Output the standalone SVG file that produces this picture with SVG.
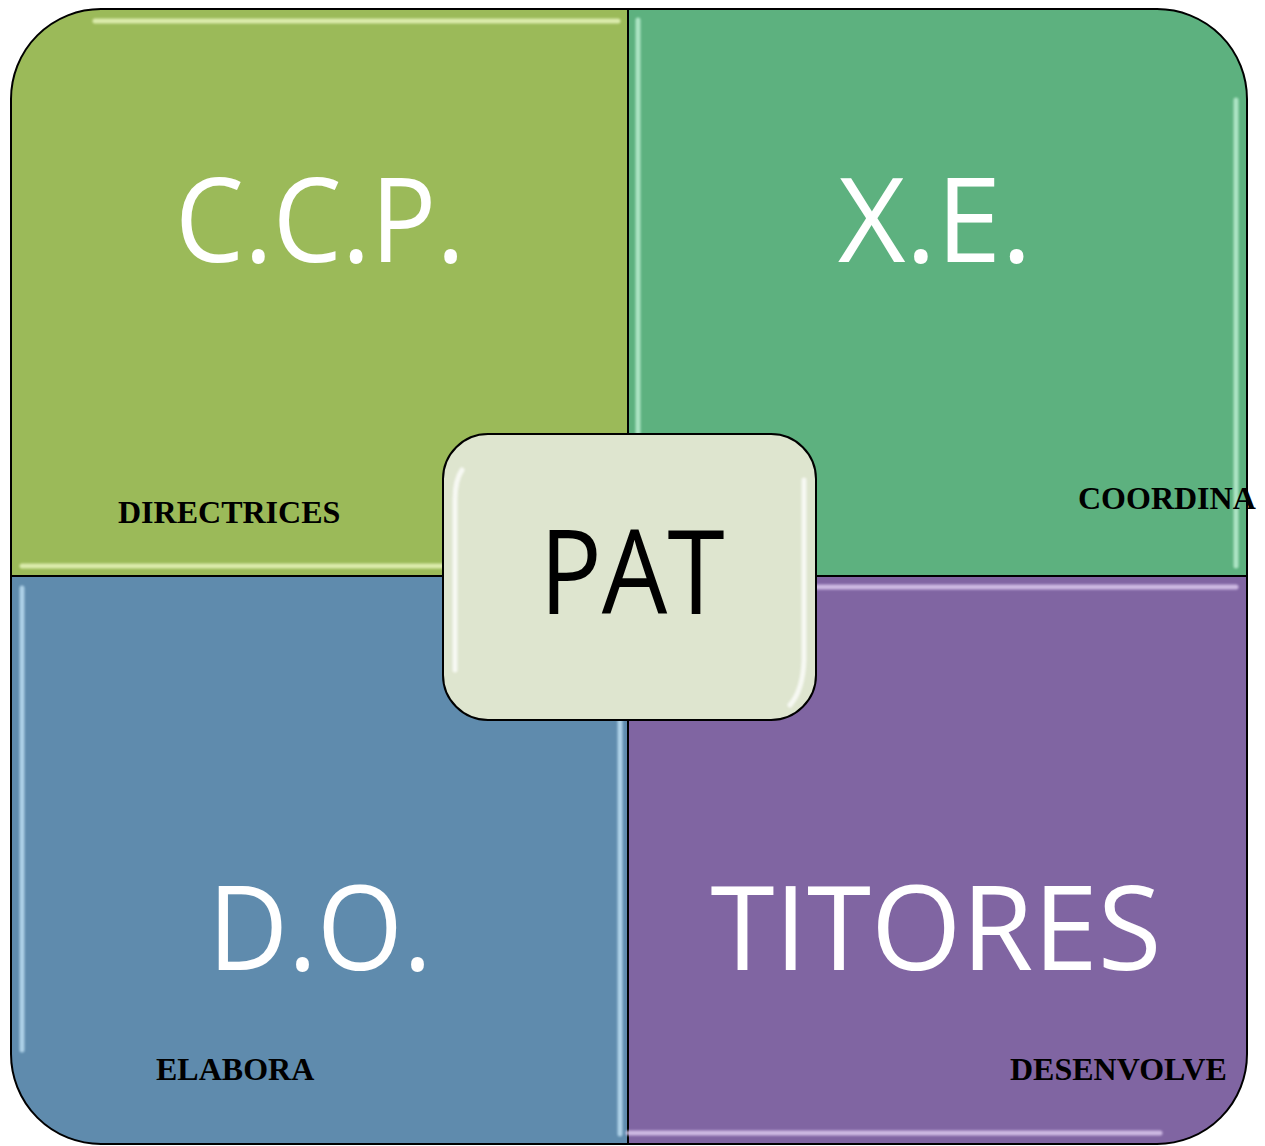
<svg xmlns="http://www.w3.org/2000/svg" width="1265" height="1146" viewBox="0 0 1265 1146">
<defs>
<style>
.q{stroke:#000;stroke-width:2}
.big{font-family:"Open Sans","Liberation Sans",sans-serif;fill:#fff;text-anchor:middle;font-size:118px}
.lab{font-family:"Liberation Serif",serif;font-weight:bold;fill:#000;font-size:32px}
.hl{stroke-width:5;stroke-linecap:round;fill:none;opacity:0.75}
</style>
<filter id="soft" x="-5%" y="-5%" width="110%" height="110%"><feGaussianBlur stdDeviation="1.2"/></filter>
</defs>
<rect width="1265" height="1146" fill="#fff"/>
<g id="ccp">
<path class="q" d="M11,99 A90,90 0 0 1 101,9 L628,9 L628,576 L11,576 Z" fill="#9BBA59"/>
<path class="hl" d="M95,21 L618,21 M22,566 L626,566" stroke="#F0FCC8" filter="url(#soft)"/>
<text class="big" x="320" y="262" textLength="290" lengthAdjust="spacingAndGlyphs">C.C.P.</text>
<text class="lab" x="118" y="523">DIRECTRICES</text>
</g>
<g id="xe">
<path class="q" d="M628,9 L1157,9 A90,90 0 0 1 1247,99 L1247,576 L628,576 Z" fill="#5DB17F"/>
<path class="hl" d="M638,20 L638,576 M1236,100 L1236,566" stroke="#C8F5DC" filter="url(#soft)"/>
<text class="big" x="935" y="262" textLength="194" lengthAdjust="spacingAndGlyphs">X.E.</text>
<text class="lab" x="1078" y="509">COORDINA</text>
</g>
<g id="do">
<path class="q" d="M11,576 L628,576 L628,1144 L101,1144 A90,90 0 0 1 11,1054 Z" fill="#5F8BAD"/>
<path class="hl" d="M22,588 L22,1050 M620,576 L620,1134" stroke="#C8E8FA" filter="url(#soft)"/>
<text class="big" x="320" y="970" textLength="224" lengthAdjust="spacingAndGlyphs">D.O.</text>
<text class="lab" x="156" y="1080">ELABORA</text>
</g>
<g id="titores">
<path class="q" d="M628,576 L1247,576 L1247,1054 A90,90 0 0 1 1157,1144 L628,1144 Z" fill="#8065A2"/>
<path class="hl" d="M640,587 L1236,587 M628,1133 L1160,1133" stroke="#E6D4F8" filter="url(#soft)"/>
<text class="big" x="936" y="970" textLength="451" lengthAdjust="spacingAndGlyphs">TITORES</text>
<text class="lab" x="1010" y="1080">DESENVOLVE</text>
</g>
<g id="pat">
<rect x="443" y="434" width="373" height="286" rx="45" fill="#DEE5CF" stroke="#000" stroke-width="2"/>
<path class="hl" d="M462,470 Q455,480 455,500 L455,670 M804,480 Q804,490 804,510 L804,660 Q803,690 790,705" stroke="#FFFFFF" filter="url(#soft)"/>
<text x="632" y="614" font-family="Open Sans, Liberation Sans, sans-serif" font-size="118" text-anchor="middle" fill="#000" textLength="185" lengthAdjust="spacingAndGlyphs">PAT</text>
</g>
<g id="connectors"/>
</svg>
